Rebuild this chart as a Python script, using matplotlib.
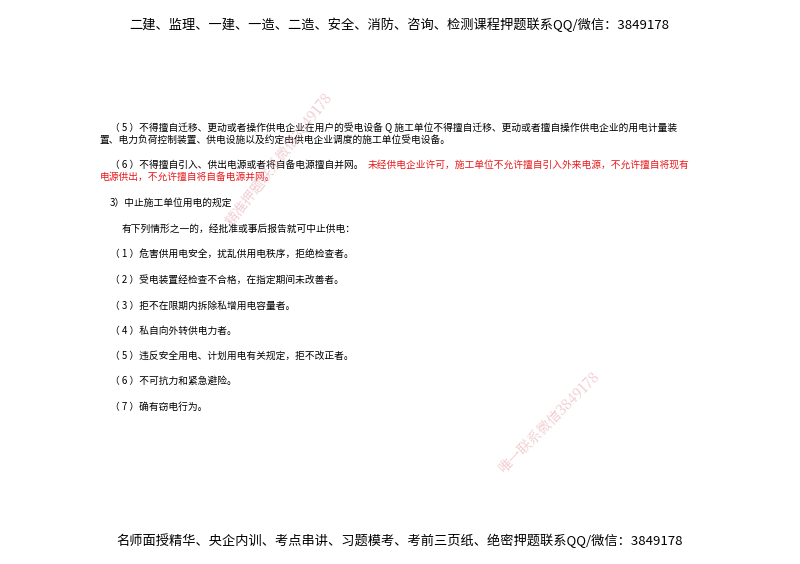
import matplotlib.pyplot as plt

plt.rcParams['font.family'] = ['Noto Sans CJK SC', 'DejaVu Sans']

HEADER = "二建、监理、一建、一造、二造、安全、消防、咨询、检测课程押题联系QQ/微信：3849178"
FOOTER = "名师面授精华、央企内训、考点串讲、习题模考、考前三页纸、绝密押题联系QQ/微信：3849178"

# (x, y, text, color)
lines = [
    (110, 128, "（ 5 ）不得擅自迁移、更动或者操作供电企业在用户的受电设备 Q 施工单位不得擅自迁移、更动或者擅自操作供电企业的用电计量装", "black"),
    (100, 140, "置、电力负荷控制装置、供电设施以及约定由供电企业调度的施工单位受电设备。", "black"),
    (110, 165, "（ 6 ）不得擅自引入、供出电源或者将自备电源擅自并网。", "black"),
    (368, 165, "未经供电企业许可，施工单位不允许擅自引入外来电源，不允许擅自将现有", "#e8191c"),
    (100, 177, "电源供出，不允许擅自将自备电源并网。", "#e8191c"),
    (110, 203, "3）中止施工单位用电的规定", "black"),
    (122, 229, "有下列情形之一的，经批准或事后报告就可中止供电：", "black"),
    (110, 254, "（ 1 ）危害供用电安全，扰乱供用电秩序，拒绝检查者。", "black"),
    (110, 280, "（ 2 ）受电装置经检查不合格，在指定期间未改善者。", "black"),
    (110, 306, "（ 3 ）拒不在限期内拆除私增用电容量者。", "black"),
    (110, 331, "（ 4 ）私自向外转供电力者。", "black"),
    (110, 356, "（ 5 ）违反安全用电、计划用电有关规定，拒不改正者。", "black"),
    (110, 381, "（ 6 ）不可抗力和紧急避险。", "black"),
    (110, 407, "（ 7 ）确有窃电行为。", "black"),
]

watermarks = [
    (280, 160, "精准押题联系微信3849178", 52),
    (550, 422, "唯一联系微信3849178", 45),
]

fig = plt.figure(figsize=(8, 5.64), dpi=100)
ax = fig.add_axes([0, 0, 1, 1])
ax.set_xlim(0, 800)
ax.set_ylim(564, 0)
ax.axis('off')

ax.text(399, 25, HEADER, fontsize=9.5, ha='center', va='center')
ax.text(400, 541, FOOTER, fontsize=9.5, ha='center', va='center')

for x, y, s, c in lines:
    ax.text(x, y, s, fontsize=7, ha='left', va='center', color=c)

for x, y, s, r in watermarks:
    ax.text(x, y, s, fontsize=10, ha='center', va='center', rotation=r,
            color='#e8b0b8', alpha=0.7, family=['Noto Serif CJK SC', 'Noto Sans CJK SC'])

fig.savefig('out.png', dpi=100)
